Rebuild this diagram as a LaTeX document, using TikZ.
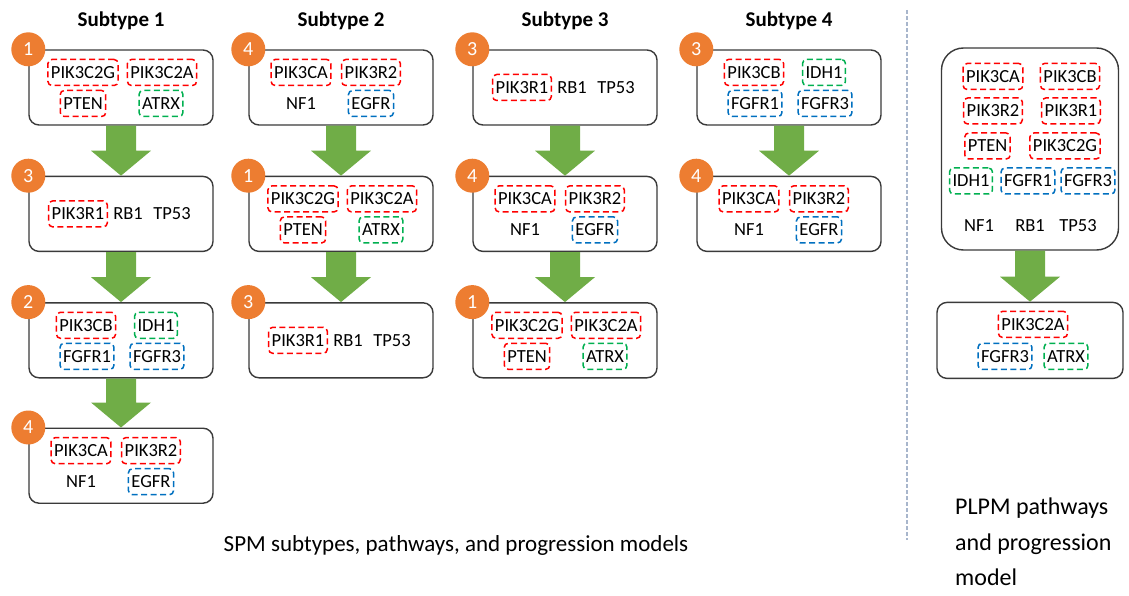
\documentclass[tikz,border=0pt]{standalone}
\usepackage{fontspec}
\setmainfont{Carlito}
\usetikzlibrary{
  positioning,
  calc
}

\definecolor{stepOrange}{HTML}{ED7D31}
\definecolor{flowGreen}{HTML}{70AD47}
\definecolor{geneRed}{HTML}{FF0000}
\definecolor{geneGreen}{HTML}{00B050}
\definecolor{geneBlue}{HTML}{0070C0}
\definecolor{boxLine}{HTML}{3A3A3A}
\definecolor{sepLine}{HTML}{A8B6CC}

\begin{document}
\begin{tikzpicture}[
  x = 1pt, y = -1pt,
  % ── Stage box ───────────────────────────────────────────
  stage/.style={
    draw            = boxLine,
    line width      = 1.4pt,
    rounded corners = 10pt,
    fill            = white,
    minimum width   = 184pt,
    minimum height  = 75pt,
    inner sep       = 0pt
  },
  % ── Order badge ─────────────────────────────────────────
  badge/.style={
    circle,
    fill       = stepOrange,
    text       = white,
    minimum size = 34pt,
    inner sep  = 0pt,
    font       = \fontsize{20}{22}\selectfont
  },
  % ── Gene labels ─────────────────────────────────────────
  gene/.style={
    inner xsep      = 3pt,
    inner ysep      = 0pt,
    minimum height  = 26pt,
    rounded corners = 4pt,
    line width      = 1.5pt,
    dash pattern    = on 6pt off 3.5pt,
    font            = \fontsize{18.5}{20}\selectfont
  },
  rg/.style={gene, draw = geneRed},
  gg/.style={gene, draw = geneGreen},
  bg/.style={gene, draw = geneBlue},
  ng/.style={gene},
  % ── Texts ───────────────────────────────────────────────
  subtitle/.style={
    font      = \fontsize{21}{24}\selectfont\bfseries,
    inner sep = 0pt
  },
  captext/.style={
    font      = \fontsize{23}{35}\selectfont,
    inner sep = 0pt
  },
  % ── Block arrow ─────────────────────────────────────────
  flow/.style={fill = flowGreen}
]
\useasboundingbox (0,0) rectangle (1129,596);

% ── Stage boxes ────────────────────────────────────────────
\node[stage] at (121,87.5) (s1a) {};
\node[stage, below=50pt of s1a] (s1b) {};
\node[stage, below=50pt of s1b] (s1c) {};
\node[stage, below=49pt of s1c] (s1d) {};

\node[stage] at (341,87.5) (s2a) {};
\node[stage, below=50pt of s2a] (s2b) {};
\node[stage, below=50pt of s2b] (s2c) {};

\node[stage] at (565,87.5) (s3a) {};
\node[stage, below=50pt of s3a] (s3b) {};
\node[stage, below=50pt of s3b] (s3c) {};

\node[stage] at (789,87.5) (s4a) {};
\node[stage, below=50pt of s4a] (s4b) {};

\node[stage, minimum width=177pt, minimum height=202pt,
      rounded corners=22pt] at (1030,149) (pa) {};
\node[stage, minimum width=186pt, minimum height=76pt,
      below=51pt of pa] (pb) {};

% ── Titles ─────────────────────────────────────────────────
\node[subtitle, above=19pt of s1a] (t1) {Subtype 1};
\node[subtitle, above=19pt of s2a] (t2) {Subtype 2};
\node[subtitle, above=19pt of s3a] (t3) {Subtype 3};
\node[subtitle, above=19pt of s4a] (t4) {Subtype 4};

% ── Gene sets ──────────────────────────────────────────────
\foreach \b in {s1a, s2b, s3c}
  \foreach \dx/\dy/\g/\s in {-38/-15/PIK3C2G/rg, 41/-15/PIK3C2A/rg,
                             -38/16/PTEN/rg, 40/16/ATRX/gg}
    \node[\s] (\b-\g) at ($(\b)+(\dx,\dy)$) {\g};

\foreach \b in {s1b, s2c, s3a}
  \foreach \dx/\g/\s in {-43/PIK3R1/rg, 7/RB1/ng, 51/TP53/ng}
    \node[\s] (\b-\g) at ($(\b)+(\dx,0)$) {\g};

\foreach \b in {s1c, s4a}
  \foreach \dx/\dy/\g/\s in {-35/-15/PIK3CB/rg, 35/-15/IDH1/gg,
                             -34/16/FGFR1/bg, 36/16/FGFR3/bg}
    \node[\s] (\b-\g) at ($(\b)+(\dx,\dy)$) {\g};

\foreach \b in {s1d, s2a, s3b, s4b}
  \foreach \dx/\dy/\g/\s in {-40/-15/PIK3CA/rg, 30/-15/PIK3R2/rg,
                             -40/16/NF1/ng, 30/16/EGFR/bg}
    \node[\s] (\b-\g) at ($(\b)+(\dx,\dy)$) {\g};

\foreach \dx/\dy/\g/\s in {-37/-72.5/PIK3CA/rg, 40/-72.5/PIK3CB/rg,
                           -37/-38/PIK3R2/rg, 41/-38/PIK3R1/rg,
                           -42.5/-3/PTEN/rg, 35/-3/PIK3C2G/rg,
                           -59/32/IDH1/gg, -2/32/FGFR1/bg, 58/32/FGFR3/bg,
                           -51/76.5/NF1/ng, 0/76.5/RB1/ng, 48/76.5/TP53/ng}
  \node[\s] (pa-\g) at ($(pa)+(\dx,\dy)$) {\g};

\foreach \dx/\dy/\g/\s in {3/-16/PIK3C2A/rg, -25/16/FGFR3/bg, 36/16/ATRX/gg}
  \node[\s] (pb-\g) at ($(pb)+(\dx,\dy)$) {\g};

% ── Order badges ───────────────────────────────────────────
\foreach \b/\n in {s1a/1, s1b/3, s1c/2, s1d/4, s2a/4, s2b/1, s2c/3,
                   s3a/3, s3b/4, s3c/1, s4a/3, s4b/4}
  \node[badge] (\b-n) at (\b.north west) {\n};

% ── Block arrows ───────────────────────────────────────────
\foreach \f/\t in {s1a/s1b, s1b/s1c, s1c/s1d, s2a/s2b, s2b/s2c,
                   s3a/s3b, s3b/s3c, s4a/s4b, pa/pb}
  \fill[flow] ($(\f.south)+(-15,0)$) -- ($(\t.north)+(-15,-25)$)
    -- ($(\t.north)+(-30,-25)$) -- (\t.north)
    -- ($(\t.north)+(30,-25)$) -- ($(\t.north)+(15,-25)$)
    -- ($(\f.south)+(15,0)$) -- cycle;

% ── Separator and captions ─────────────────────────────────
\coordinate (sepTop) at (907,10);
\coordinate (sepBot) at (907,540);
\draw[sepLine, line width=1.1pt, dash pattern=on 4pt off 2pt] (sepTop) -- (sepBot);

\node[captext] (cap) at (456,545) {SPM subtypes, pathways, and progression models};
\node[captext, font=\fontsize{24}{35.5}\selectfont, align=left,
      anchor=north west] (plab) at (955,498)
  {PLPM pathways\\and progression\\model};

\end{tikzpicture}
\end{document}
